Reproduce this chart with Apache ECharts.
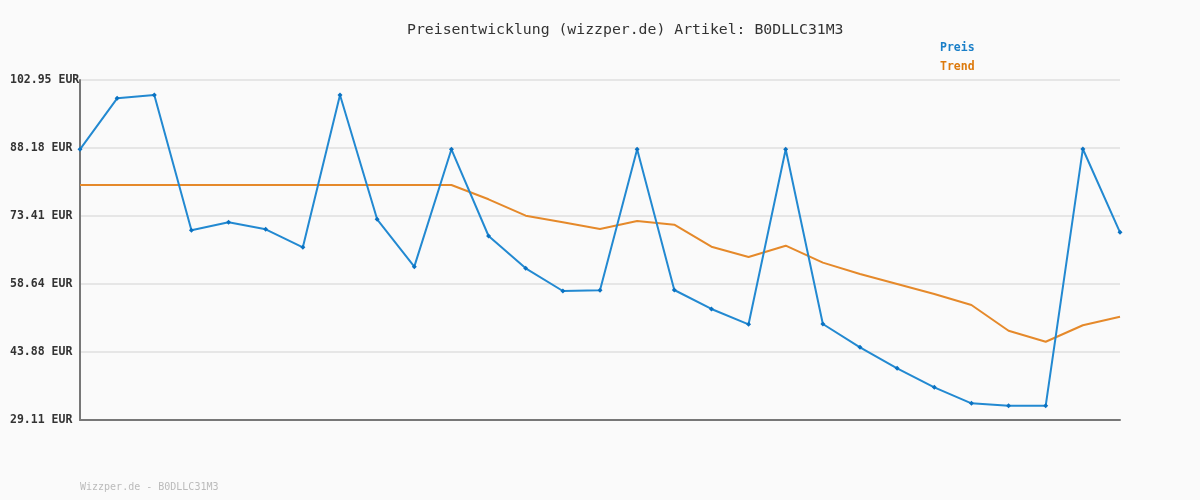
<!DOCTYPE html>
<html>
<head>
<meta charset="utf-8">
<script src="https://cdn.jsdelivr.net/npm/echarts@6/dist/echarts.min.js"></script>
<style>
  html, body { margin: 0; padding: 0; background: #fafafa; }
  #main { width: 1200px; height: 500px; }
</style>
</head>
<body>
<div id="main"></div>
<script>
// Werte
var tage = [];
for (var i = 1; i <= 29; i++) { tage.push('T' + i); }

var preis = [87.90, 98.97, 99.69, 70.30, 72.04, 70.52, 66.61, 99.69, 72.69, 62.41,
             87.90, 69.07, 62.05, 57.13, 57.27, 87.90, 57.34, 53.22, 49.89, 87.90,
             49.96, 44.89, 40.33, 36.20, 32.73, 32.22, 32.22, 87.97, 69.87];

var trend = [80.15, 80.15, 80.15, 80.15, 80.15, 80.15, 80.15, 80.15, 80.15, 80.15,
             80.15, 77.04, 73.48, 72.04, 70.59, 72.33, 71.53, 66.75, 64.51, 66.97,
             63.28, 60.82, 58.65, 56.47, 54.08, 48.50, 46.11, 49.68, 51.54];

var yTicks = [29.11, 43.88, 58.64, 73.41, 88.18, 102.95];

var mono = '"DejaVu Sans Mono", monospace';

var myChart = echarts.init(document.getElementById('main'));

var option = {
    backgroundColor: '#fafafa',
    animation: false,
    title: {
        text: 'Preisentwicklung (wizzper.de) Artikel: B0DLLC31M3',
        left: 402,
        top: 18,
        textStyle: { fontFamily: mono, fontSize: 14.8, fontWeight: 'normal', color: '#333' }
    },
    legend: {
        orient: 'vertical',
        left: 929,
        top: 37,
        itemWidth: 0,
        itemHeight: 0,
        itemGap: 7,
        data: [
            { name: 'Preis', textStyle: { color: '#1a7fc8' } },
            { name: 'Trend', textStyle: { color: '#dd7a0c' } }
        ],
        textStyle: { fontFamily: mono, fontSize: 11.5, fontWeight: 'bold' }
    },
    graphic: [{
        type: 'text',
        left: 80,
        top: 482,
        style: { text: 'Wizzper.de - B0DLLC31M3', fill: '#bbb', font: '10px ' + mono }
    }],
    grid: { left: 80, right: 80, top: 80, bottom: 80, outerBoundsMode: 'none', containLabel: false },
    xAxis: {
        type: 'category',
        data: tage,
        boundaryGap: false,
        axisLine: { lineStyle: { color: '#777', width: 2 } },
        axisTick: { show: false },
        axisLabel: { show: false },
        splitLine: { show: false }
    },
    yAxis: {
        type: 'value',
        min: 29.11,
        max: 102.95,
        axisLine: { show: true, lineStyle: { color: '#777', width: 2 } },
        axisTick: { show: false, customValues: yTicks },
        axisLabel: {
            customValues: yTicks,
            margin: 70,
            align: 'left',
            fontFamily: mono,
            fontSize: 11.5,
            fontWeight: 'bold',
            color: '#333',
            formatter: function (v) { return v.toFixed(2) + ' EUR'; }
        },
        splitLine: { show: true, lineStyle: { color: '#e6e6e6', width: 2 } }
    },
    series: [
        {
            name: 'Preis',
            type: 'line',
            data: preis,
            symbol: 'diamond',
            symbolSize: 5,
            itemStyle: { color: '#0a72c2' },
            lineStyle: { color: '#2289d1', width: 2 },
            z: 3
        },
        {
            name: 'Trend',
            type: 'line',
            data: trend,
            symbol: 'none',
            itemStyle: { color: '#dd7a0c' },
            lineStyle: { color: '#e5892a', width: 2 },
            z: 2
        }
    ]
};

myChart.setOption(option);
</script>
</body>
</html>
